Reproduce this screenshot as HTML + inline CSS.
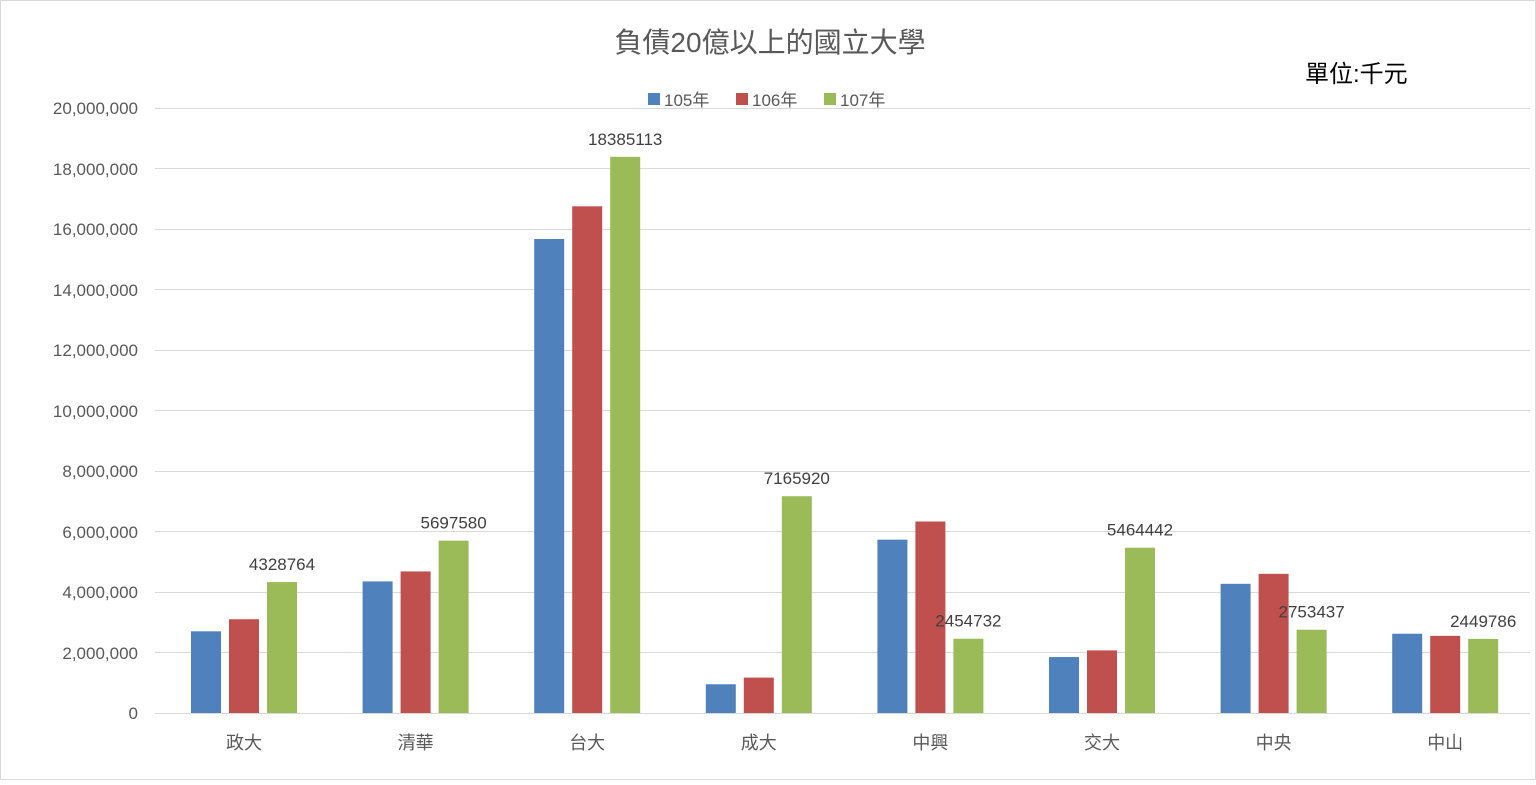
<!DOCTYPE html>
<html><head><meta charset="utf-8"><style>
body{margin:0;background:#fff}
svg text{font-family:"Liberation Sans","Noto Sans CJK TC",sans-serif}
</style></head><body>
<svg width="1536" height="780" xmlns="http://www.w3.org/2000/svg">
<rect x="0.5" y="0.5" width="1535" height="779" fill="#fff" stroke="#d9d9d9"/>
<g stroke="#d9d9d9" stroke-width="1">
<line x1="155" x2="1530" y1="108.5" y2="108.5"/><line x1="155" x2="1530" y1="168.5" y2="168.5"/>
<line x1="155" x2="1530" y1="229.5" y2="229.5"/><line x1="155" x2="1530" y1="289.5" y2="289.5"/>
<line x1="155" x2="1530" y1="350.5" y2="350.5"/><line x1="155" x2="1530" y1="410.5" y2="410.5"/>
<line x1="155" x2="1530" y1="471.5" y2="471.5"/><line x1="155" x2="1530" y1="531.5" y2="531.5"/>
<line x1="155" x2="1530" y1="592.5" y2="592.5"/><line x1="155" x2="1530" y1="652.5" y2="652.5"/>
<line x1="155" x2="1530" y1="713.5" y2="713.5"/>
</g>
<g font-size="17" fill="#595959" text-anchor="end">
<text x="138" y="114">20,000,000</text><text x="138" y="175">18,000,000</text>
<text x="138" y="235">16,000,000</text><text x="138" y="296">14,000,000</text>
<text x="138" y="356">12,000,000</text><text x="138" y="417">10,000,000</text>
<text x="138" y="477">8,000,000</text><text x="138" y="538">6,000,000</text>
<text x="138" y="598">4,000,000</text><text x="138" y="659">2,000,000</text>
<text x="138" y="719">0</text>
</g>
<g id="bars"></g>
<g font-size="18" fill="#595959" text-anchor="middle" id="cats"></g>
<g font-size="17" fill="#404040" text-anchor="middle" id="lbls"></g>
<text x="770" y="52" font-size="28" fill="#595959" text-anchor="middle">負債20億以上的國立大學</text>
<text x="1305" y="82" font-size="24" fill="#000">單位:千元</text>
<rect x="648" y="93" width="12" height="12" fill="#4f81bd"/><text x="664" y="106" font-size="17" fill="#595959">105年</text>
<rect x="736" y="93" width="12" height="12" fill="#c0504d"/><text x="752" y="106" font-size="17" fill="#595959">106年</text>
<rect x="824" y="93" width="12" height="12" fill="#9bbb59"/><text x="840" y="106" font-size="17" fill="#595959">107年</text>
</svg>
<script>
var d=[["政大",2700000,3100000,4328764],["清華",4350000,4680000,5697580],["台大",15670000,16750000,18385113],["成大",950000,1170000,7165920],["中興",5730000,6330000,2454732],["交大",1850000,2070000,5464442],["中央",4270000,4600000,2753437],["中山",2620000,2550000,2449786]];
var c=["#4f81bd","#c0504d","#9bbb59"],ns="http://www.w3.org/2000/svg";
var B=document.getElementById("bars"),C=document.getElementById("cats"),L=document.getElementById("lbls");
d.forEach(function(r,i){var cx=244+i*171.6;
for(var k=0;k<3;k++){var h=r[k+1]/20000000*605;var e=document.createElementNS(ns,"rect");
e.setAttribute("x",cx-53+k*38);e.setAttribute("y",713-h);e.setAttribute("width",30);e.setAttribute("height",h);e.setAttribute("fill",c[k]);B.appendChild(e);}
var t=document.createElementNS(ns,"text");t.setAttribute("x",cx);t.setAttribute("y",749);t.textContent=r[0];C.appendChild(t);
var h3=r[3]/20000000*605;var l=document.createElementNS(ns,"text");l.setAttribute("x",cx+38);l.setAttribute("y",713-h3-12);l.textContent=r[3];L.appendChild(l);});
</script>
</body></html>
